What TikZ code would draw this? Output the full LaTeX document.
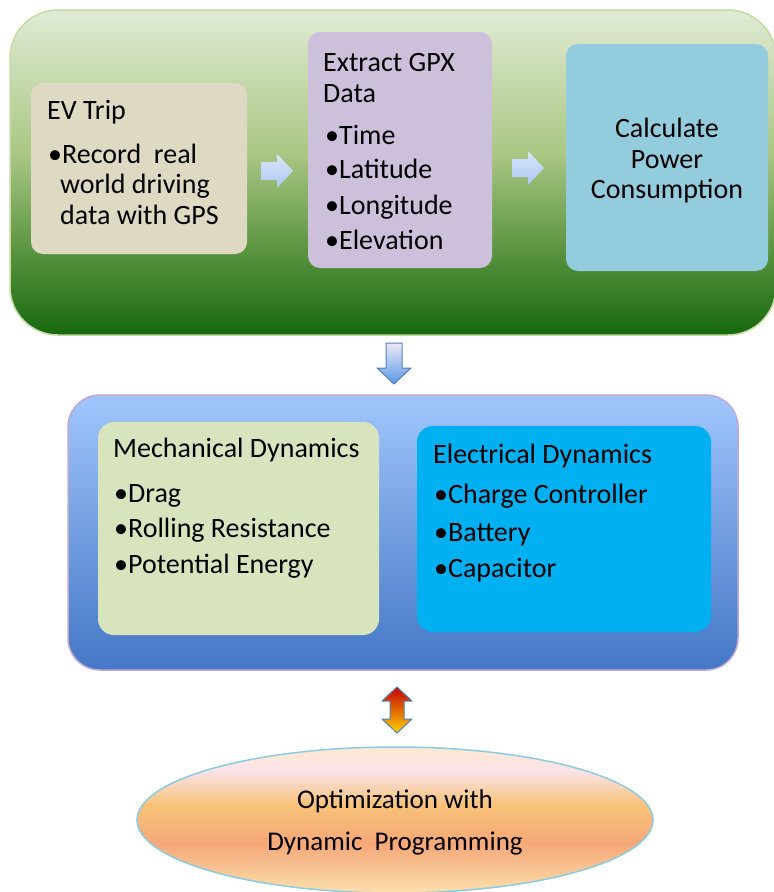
\documentclass[tikz,border=0pt]{standalone}
\usepackage{fontspec}
\setmainfont{Carlito}
\usetikzlibrary{shapes.geometric}
\definecolor{evc}{HTML}{DDD9C3}
\definecolor{gpxc}{HTML}{CCC0DA}
\definecolor{calcc}{HTML}{93CDDD}
\definecolor{mechc}{HTML}{D7E4BD}
\definecolor{elecc}{HTML}{00B0F0}
\definecolor{gA}{HTML}{E0EBD4}
\definecolor{gB}{HTML}{AAC784}
\definecolor{gC}{HTML}{5A9440}
\definecolor{gD}{HTML}{16680F}
\definecolor{gborder}{HTML}{C4DCA4}
\definecolor{bTop}{HTML}{A0C6FC}
\definecolor{bBot}{HTML}{4477C6}
\definecolor{bborder}{HTML}{BFA8D2}
\definecolor{eA}{HTML}{FDE9D2}
\definecolor{eB}{HTML}{FBE3EA}
\definecolor{eC}{HTML}{F8C278}
\definecolor{eD}{HTML}{F5A878}
\definecolor{eE}{HTML}{FDDFAE}
\definecolor{eborder}{HTML}{8CCBE0}
\definecolor{arrblue}{HTML}{4F81BD}
\pgfdeclareverticalshading{greensh}{100bp}{color(0bp)=(gD); color(25bp)=(gD); color(38bp)=(gC); color(53bp)=(gB); color(75bp)=(gA); color(100bp)=(gA)}
\pgfdeclareverticalshading{ellsh}{100bp}{color(0bp)=(eE); color(25bp)=(eE); color(42bp)=(eD); color(55bp)=(eC); color(67bp)=(eB); color(75bp)=(eA); color(100bp)=(eA)}
\newcommand\bfnt{\fontsize{28}{33}\selectfont}
\newcommand\efnt{\fontsize{27}{32}\selectfont}
\tikzset{
  inbox/.style={rounded corners=12pt, draw=none, inner sep=0pt},
  txt/.style={anchor=base west, inner sep=0pt, font=\bfnt},
  ctxt/.style={anchor=base, inner sep=0pt, font=\bfnt},
  etxt/.style={anchor=base, inner sep=0pt, font=\efnt},
  rarrstyle/.style={top color={rgb,255:red,218;green,230;blue,250}, bottom color={rgb,255:red,172;green,200;blue,242}, draw=none},
  darrstyle/.style={top color={rgb,255:red,238;green,232;blue,248}, bottom color={rgb,255:red,88;green,152;blue,226}, draw=arrblue, line width=1pt, line join=round},
  dblstyle/.style={top color={rgb,255:red,196;green,0;blue,0}, middle color={rgb,255:red,255;green,110;blue,0}, bottom color={rgb,255:red,255;green,212;blue,0}, draw=arrblue, line width=1pt, line join=round},
  rarr/.pic={\path[rarrstyle] (-16,-9) -- (0,-9) -- (0,-17) -- (16,0) -- (0,17) -- (0,9) -- (-16,9) -- cycle;},
  darr/.pic={\path[darrstyle] (-8,0) -- (8,0) -- (8,25) -- (17,25) -- (0,41) -- (-17,25) -- (-8,25) -- cycle;},
  dblarr/.pic={\path[dblstyle] (0,-23) -- (15,-9) -- (7,-9) -- (7,9) -- (15,9) -- (0,23) -- (-15,9) -- (-7,9) -- (-7,-9) -- (-15,-9) -- cycle;}
}
\begin{document}
\begin{tikzpicture}[x=1pt,y=-1pt]
\useasboundingbox[fill=white] (0,0) rectangle (774,892);
% top green panel
\node[rounded corners=48pt, draw=gborder, line width=1.5pt, shading=greensh, minimum width=766pt, minimum height=325pt, inner sep=0pt] (top) at (393,172.5) {};
\node[inbox, fill=evc, minimum width=216pt, minimum height=171pt] (ev) at (139,168.5) {};
\node[inbox, fill=gpxc, minimum width=184pt, minimum height=236pt] (gpx) at (400,150) {};
\node[inbox, fill=calcc, minimum width=202pt, minimum height=227pt] (calc) at (667,157.5) {};
\node[txt] (ev1) at (47,119) {EV Trip};
\node[txt] (ev2) at (48,163) {•Record\ \ real};
\node[txt] (ev3) at (60,193.5) {world driving};
\node[txt] (ev4) at (60,224) {data with GPS};
\node[txt] (g1) at (323,71) {Extract GPX};
\node[txt] (g2) at (323,102) {Data};
\node[txt] (g3) at (325,144) {•Time};
\node[txt] (g4) at (325,178) {•Latitude};
\node[txt] (g5) at (325,214) {•Longitude};
\node[txt] (g6) at (325,249) {•Elevation};
\node[ctxt] (c1) at (667,137) {Calculate};
\node[ctxt] (c2) at (667,168) {Power};
\node[ctxt] (c3) at (667,198) {Consumption};
\pic at (277,171) {rarr};
\pic at (528,168) {rarr};
% down arrow
\pic at (394,343) {darr};
% blue panel
\node[rounded corners=32pt, draw=bborder, line width=1.5pt, top color=bTop, bottom color=bBot, minimum width=670pt, minimum height=275pt, inner sep=0pt] (mid) at (403,532.5) {};
\node[inbox, rounded corners=16pt, fill=mechc, minimum width=281pt, minimum height=213pt] (mech) at (238.5,528.5) {};
\node[inbox, rounded corners=16pt, fill=elecc, minimum width=294pt, minimum height=206pt] (elec) at (564,529) {};
\node[txt] (m1) at (113,457) {Mechanical Dynamics};
\node[txt] (m2) at (114,502) {•Drag};
\node[txt] (m3) at (114,537) {•Rolling Resistance};
\node[txt] (m4) at (114,573) {•Potential Energy};
\node[txt] (e1) at (433,463) {Electrical Dynamics};
\node[txt] (e2) at (434,503) {•Charge Controller};
\node[txt] (e3) at (434,541) {•Battery};
\node[txt] (e4) at (434,577) {•Capacitor};
% double arrow
\pic at (397,710) {dblarr};
% ellipse
\node[ellipse, draw=eborder, line width=1.5pt, shading=ellsh, minimum width=516pt, minimum height=146pt, inner sep=0pt] (opt) at (395,820) {};
\node[etxt] (o1) at (395,808) {Optimization with};
\node[etxt] (o2) at (395,850) {Dynamic\ \ Programming};
\end{tikzpicture}
\end{document}
